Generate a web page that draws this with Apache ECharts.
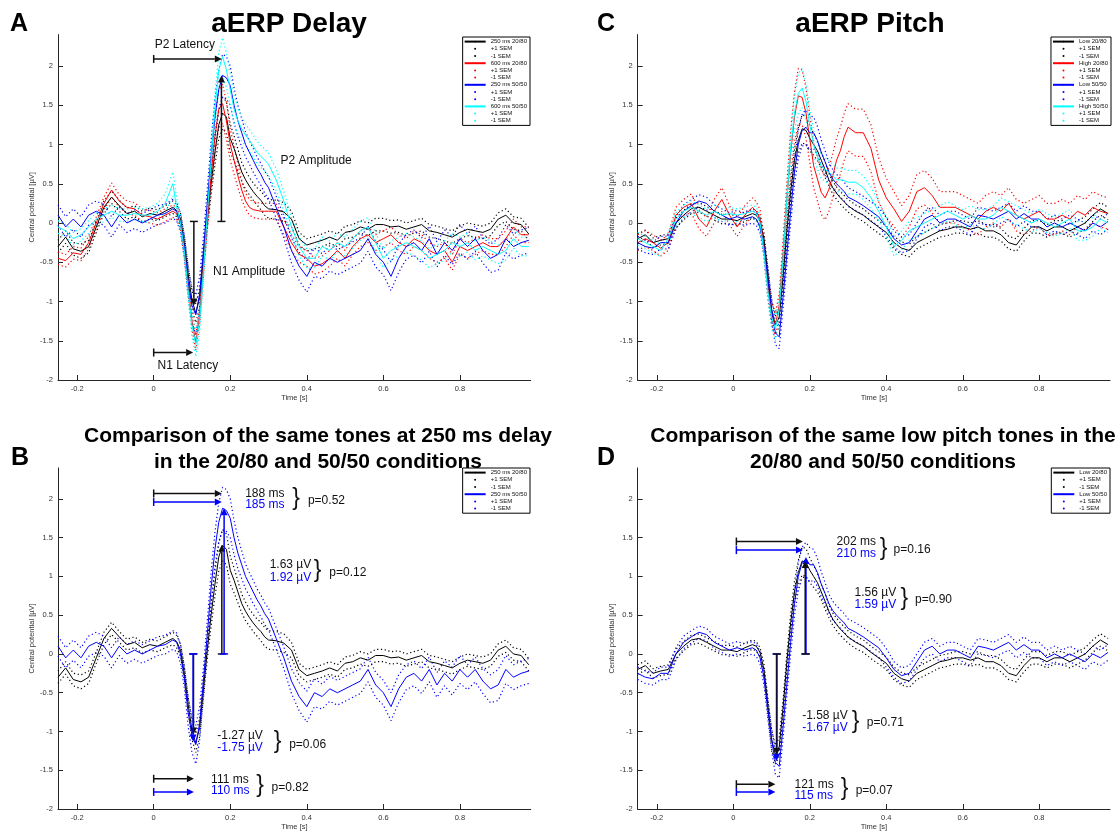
<!DOCTYPE html>
<html><head><meta charset="utf-8">
<script src="https://cdn.jsdelivr.net/npm/echarts@6/dist/echarts.min.js"></script>
<style>html,body{margin:0;padding:0;background:#fff}#c{width:1120px;height:832px}</style>
</head><body><div id="c"></div>
<script>
// ---- time base (s) ----
const T = [-0.25,-0.23,-0.21,-0.19,-0.17,-0.15,-0.13,-0.11,-0.09,-0.07,-0.05,-0.03,-0.01,0.01,0.03,0.05,
0.06,0.07,0.08,0.09,0.10,0.11,0.12,0.13,0.14,0.15,0.16,0.17,0.18,0.19,0.20,0.21,0.22,0.23,0.24,0.25,0.26,0.27,0.28,0.29,0.30,
0.32,0.34,0.36,0.38,0.40,0.42,0.44,0.46,0.48,0.50,0.52,0.54,0.56,0.58,0.60,0.62,0.64,0.66,0.68,0.70,0.72,0.74,0.76,0.78,0.80,0.82,0.84,0.86,0.88,0.90,0.92,0.94,0.96,0.98];
const X_TICKS = [-0.2,0,0.2,0.4,0.6,0.8];
const Y_TICKS = [-2,-1.5,-1,-0.5,0,0.5,1,1.5,2];

// ---- Delay: 250 ms 20/80 (black) ----
const delay250_2080 = [-0.30,-0.18,-0.33,-0.36,-0.30,-0.05,0.20,0.33,0.22,0.12,0.15,0.08,0.12,0.10,0.15,0.20,
0.16,0.05,-0.25,-0.65,-0.98,-1.15,-0.95,-0.45,0.05,0.50,0.90,1.25,1.40,1.35,1.08,0.95,0.80,0.65,0.55,0.47,0.40,0.34,0.29,0.22,0.18,
0.17,0.14,0.05,-0.20,-0.28,-0.25,-0.22,-0.18,-0.22,-0.12,-0.10,-0.05,-0.08,-0.02,-0.02,-0.05,-0.04,-0.08,-0.05,-0.02,-0.10,-0.12,-0.15,-0.18,-0.12,-0.08,-0.10,-0.12,-0.08,0.05,0.10,0.00,-0.02,-0.14];
const sem_delay250_2080 = [0.08,0.08,0.08,0.09,0.08,0.07,0.08,0.08,0.07,0.07,0.07,0.07,0.07,0.07,0.07,0.08,
0.08,0.08,0.09,0.10,0.12,0.12,0.12,0.12,0.12,0.14,0.16,0.18,0.20,0.20,0.18,0.16,0.14,0.12,0.12,0.11,0.11,0.11,0.12,0.12,0.12,
0.12,0.12,0.10,0.08,0.08,0.08,0.08,0.08,0.08,0.08,0.08,0.08,0.08,0.08,0.08,0.08,0.08,0.08,0.08,0.08,0.08,0.08,0.08,0.08,0.08,0.08,0.08,0.08,0.08,0.08,0.08,0.08,0.08,0.08];
// ---- Delay: 600 ms 20/80 (red) ----
const delay600_2080 = [-0.45,-0.48,-0.38,-0.40,-0.25,0.00,0.25,0.42,0.28,0.20,0.18,0.10,0.08,0.05,0.10,0.15,
0.12,0.00,-0.35,-0.80,-1.25,-1.52,-1.20,-0.55,0.05,0.60,1.10,1.45,1.52,1.30,1.00,0.80,0.60,0.42,0.28,0.20,0.17,0.16,0.15,0.15,0.15,
0.15,-0.05,-0.25,-0.40,-0.45,-0.55,-0.52,-0.45,-0.35,-0.45,-0.30,-0.20,-0.15,-0.25,-0.20,-0.15,-0.25,-0.30,-0.20,-0.25,-0.35,-0.40,-0.35,-0.50,-0.30,-0.35,-0.30,-0.25,-0.30,-0.30,-0.20,-0.05,-0.15,-0.15];
const sem_delay600_2080 = [0.08,0.08,0.08,0.08,0.08,0.08,0.08,0.09,0.08,0.08,0.08,0.08,0.08,0.08,0.08,0.08,
0.08,0.08,0.09,0.10,0.10,0.10,0.10,0.12,0.14,0.18,0.22,0.24,0.25,0.24,0.20,0.18,0.15,0.12,0.10,0.10,0.10,0.10,0.10,0.10,0.10,
0.10,0.10,0.10,0.10,0.10,0.10,0.10,0.10,0.10,0.10,0.10,0.10,0.10,0.10,0.10,0.10,0.10,0.10,0.10,0.10,0.10,0.10,0.10,0.10,0.10,0.10,0.10,0.10,0.10,0.10,0.10,0.10,0.10,0.10];
// ---- Delay: 250 ms 50/50 (blue) ----
const delay250_5050 = [0.10,-0.05,0.05,-0.05,0.10,0.15,0.10,-0.05,0.10,0.00,0.05,0.00,0.05,0.10,0.12,0.18,
0.15,0.00,-0.30,-0.75,-1.05,-1.17,-0.90,-0.35,0.25,0.85,1.35,1.70,1.88,1.85,1.75,1.50,1.30,1.15,1.00,0.90,0.80,0.70,0.62,0.52,0.45,
0.20,-0.05,-0.35,-0.55,-0.68,-0.50,-0.55,-0.45,-0.50,-0.45,-0.40,-0.35,-0.20,-0.40,-0.50,-0.68,-0.45,-0.30,-0.25,-0.35,-0.20,-0.40,-0.25,-0.35,-0.20,-0.30,-0.20,-0.35,-0.45,-0.40,-0.20,-0.30,-0.25,-0.22];
const sem_delay250_5050 = [0.13,0.13,0.13,0.13,0.13,0.13,0.13,0.13,0.12,0.12,0.12,0.12,0.12,0.12,0.12,0.12,
0.12,0.12,0.14,0.18,0.22,0.25,0.22,0.18,0.18,0.20,0.22,0.25,0.27,0.27,0.25,0.22,0.20,0.18,0.16,0.15,0.15,0.14,0.14,0.14,0.14,
0.14,0.14,0.16,0.18,0.20,0.18,0.16,0.16,0.16,0.16,0.16,0.16,0.16,0.16,0.16,0.18,0.18,0.16,0.16,0.16,0.16,0.16,0.16,0.18,0.18,0.16,0.16,0.16,0.18,0.20,0.18,0.16,0.16,0.16];
// ---- Delay: 600 ms 50/50 (cyan) ----
const delay600_5050 = [-0.05,-0.10,-0.20,-0.15,-0.05,0.05,0.10,0.15,0.10,0.10,0.12,0.10,0.10,0.15,0.25,0.50,
0.20,0.00,-0.35,-0.85,-1.30,-1.55,-1.25,-0.60,0.10,0.80,1.45,1.95,2.12,1.95,1.70,1.45,1.30,1.20,1.12,1.05,0.98,0.90,0.85,0.80,0.75,
0.55,0.28,-0.05,-0.30,-0.45,-0.45,-0.30,-0.35,-0.25,-0.30,-0.20,-0.10,-0.05,-0.25,-0.45,-0.35,-0.30,-0.25,-0.30,-0.35,-0.45,-0.40,-0.35,-0.25,-0.30,-0.25,-0.35,-0.30,-0.35,-0.40,-0.35,-0.20,-0.30,-0.30];
const sem_delay600_5050 = [0.08,0.08,0.08,0.08,0.08,0.08,0.08,0.08,0.08,0.08,0.08,0.08,0.10,0.10,0.12,0.15,
0.12,0.10,0.10,0.12,0.14,0.15,0.14,0.14,0.15,0.18,0.20,0.22,0.24,0.22,0.20,0.18,0.16,0.15,0.14,0.14,0.14,0.14,0.14,0.14,0.14,
0.14,0.12,0.12,0.12,0.12,0.12,0.12,0.12,0.12,0.12,0.12,0.12,0.12,0.12,0.12,0.12,0.12,0.12,0.12,0.12,0.12,0.12,0.12,0.12,0.12,0.12,0.12,0.12,0.12,0.12,0.12,0.12,0.12,0.12];

// ---- Pitch: Low 20/80 (black) ----
const pitchLow_2080 = [-0.20,-0.15,-0.25,-0.22,-0.20,0.00,0.10,0.18,0.20,0.15,0.10,0.05,0.05,0.03,0.08,0.12,
0.10,0.02,-0.20,-0.65,-1.10,-1.30,-1.20,-0.70,-0.10,0.40,0.80,1.05,1.20,1.18,1.08,1.00,0.92,0.80,0.68,0.55,0.45,0.38,0.32,0.27,0.22,
0.15,0.10,0.02,-0.05,-0.12,-0.25,-0.32,-0.35,-0.25,-0.20,-0.15,-0.10,-0.08,-0.05,-0.05,-0.08,-0.05,-0.10,-0.10,-0.15,-0.25,-0.28,-0.15,-0.05,-0.05,-0.10,-0.05,-0.05,-0.10,-0.05,0.00,0.10,0.18,0.12];
const sem_pitchLow_2080 = [0.06,0.06,0.06,0.06,0.06,0.06,0.06,0.06,0.06,0.06,0.06,0.06,0.06,0.06,0.06,0.06,
0.06,0.06,0.08,0.10,0.12,0.12,0.12,0.10,0.10,0.12,0.14,0.16,0.18,0.18,0.16,0.14,0.12,0.10,0.10,0.08,0.08,0.08,0.08,0.08,0.08,
0.08,0.08,0.08,0.08,0.08,0.08,0.08,0.08,0.08,0.08,0.08,0.08,0.08,0.08,0.08,0.08,0.08,0.08,0.08,0.08,0.08,0.08,0.08,0.08,0.08,0.08,0.08,0.08,0.08,0.08,0.08,0.08,0.08,0.08];
// ---- Pitch: High 20/80 (red) ----
const pitchHigh_2080 = [-0.25,-0.20,-0.25,-0.32,-0.25,0.10,0.20,0.25,0.05,-0.05,0.15,0.30,0.10,-0.05,0.10,0.20,
0.15,0.05,-0.30,-0.80,-1.15,-1.30,-1.05,-0.40,0.30,0.90,1.35,1.62,1.60,1.40,1.07,0.73,0.56,0.39,0.32,0.43,0.60,0.80,0.92,1.10,1.22,
1.15,1.15,0.95,0.55,0.32,0.18,0.02,0.15,0.40,0.45,0.35,0.20,0.20,0.20,0.15,0.10,0.05,0.15,0.20,0.15,0.25,0.10,0.05,0.10,0.15,0.05,0.05,0.10,0.05,0.15,0.10,0.20,0.15,0.12];
const sem_pitchHigh_2080 = [0.10,0.10,0.10,0.10,0.10,0.10,0.10,0.12,0.12,0.12,0.15,0.15,0.12,0.12,0.12,0.12,
0.12,0.12,0.12,0.15,0.15,0.15,0.15,0.18,0.22,0.28,0.32,0.35,0.35,0.32,0.30,0.28,0.28,0.28,0.28,0.28,0.28,0.28,0.30,0.30,0.30,
0.30,0.30,0.30,0.28,0.25,0.22,0.20,0.20,0.22,0.22,0.22,0.20,0.20,0.20,0.20,0.20,0.20,0.20,0.20,0.20,0.20,0.20,0.20,0.20,0.20,0.20,0.20,0.20,0.20,0.20,0.20,0.20,0.20,0.20];
// ---- Pitch: Low 50/50 (blue) ----
const pitchLow_5050 = [-0.25,-0.30,-0.32,-0.25,-0.25,0.00,0.15,0.22,0.28,0.25,0.15,0.10,0.05,0.08,0.05,0.08,
0.05,-0.05,-0.30,-0.70,-1.10,-1.40,-1.45,-0.95,-0.40,0.15,0.65,1.00,1.18,1.22,1.15,1.15,1.05,0.90,0.78,0.65,0.56,0.50,0.45,0.40,0.33,
0.28,0.22,0.15,0.08,-0.05,-0.20,-0.28,-0.25,-0.10,0.05,0.10,0.00,0.05,0.05,0.00,-0.05,0.10,0.08,0.05,0.10,0.15,0.05,0.12,0.05,0.05,-0.05,0.00,-0.05,0.00,-0.05,-0.10,0.00,-0.05,0.02];
const sem_pitchLow_5050 = [0.08,0.08,0.08,0.08,0.08,0.08,0.08,0.08,0.08,0.08,0.08,0.08,0.08,0.08,0.08,0.08,
0.08,0.08,0.10,0.12,0.14,0.15,0.15,0.14,0.14,0.15,0.16,0.18,0.20,0.22,0.22,0.20,0.18,0.16,0.14,0.12,0.12,0.12,0.12,0.12,0.12,
0.12,0.12,0.12,0.12,0.12,0.10,0.10,0.10,0.10,0.10,0.10,0.10,0.10,0.10,0.10,0.10,0.10,0.10,0.10,0.10,0.10,0.10,0.10,0.10,0.10,0.10,0.10,0.10,0.10,0.10,0.10,0.10,0.10,0.10];
// ---- Pitch: High 50/50 (cyan) ----
const pitchHigh_5050 = [-0.20,-0.25,-0.30,-0.35,-0.20,0.05,0.15,0.20,0.15,0.10,0.15,0.10,0.12,0.10,0.12,0.15,
0.12,0.00,-0.35,-0.85,-1.20,-1.35,-1.10,-0.45,0.30,0.95,1.40,1.65,1.72,1.55,1.25,1.00,0.85,0.72,0.68,0.65,0.60,0.55,0.55,0.54,0.52,
0.52,0.45,0.32,0.15,-0.05,-0.30,-0.22,-0.10,-0.05,0.00,0.05,0.10,0.15,0.10,0.05,0.10,0.05,0.05,0.10,0.20,0.15,0.10,0.05,0.00,0.05,0.00,-0.05,0.00,0.05,-0.10,-0.10,-0.05,0.05,0.00];
const sem_pitchHigh_5050 = [0.08,0.08,0.08,0.08,0.08,0.08,0.08,0.08,0.08,0.08,0.08,0.08,0.08,0.08,0.08,0.08,
0.08,0.08,0.10,0.12,0.14,0.15,0.14,0.12,0.14,0.18,0.22,0.25,0.25,0.22,0.20,0.18,0.16,0.15,0.15,0.15,0.15,0.15,0.15,0.15,0.15,
0.15,0.15,0.14,0.12,0.12,0.12,0.12,0.12,0.12,0.12,0.12,0.12,0.12,0.12,0.12,0.12,0.12,0.12,0.12,0.12,0.12,0.12,0.12,0.12,0.12,0.12,0.12,0.12,0.12,0.12,0.12,0.12,0.12,0.12];

// ---- annotations: [x0, y0, x1, y1, colour(0 black,1 blue)] ----
const arrowsA = [[0,2.09,0.178,2.09,0],[0.177,0.02,0.177,1.88,0],[0.105,0.02,0.105,-1.05,0],[0,-1.65,0.103,-1.65,0]];
const arrowsB = [[0,2.07,0.178,2.07,0],[0,1.96,0.178,1.96,1],[0.178,0,0.178,1.41,0],[0.184,0,0.184,1.88,1],
  [0.104,0,0.104,-1.04,0],[0.103,0,0.103,-1.13,1],[0,-1.61,0.105,-1.61,0],[0,-1.78,0.105,-1.78,1]];
const arrowsD = [[0.008,1.45,0.182,1.45,0],[0.008,1.34,0.182,1.34,1],[0.190,0,0.190,1.25,1],[0.188,0,0.188,1.20,0],
  [0.113,0,0.113,-1.38,1],[0.114,0,0.114,-1.30,0],[0.008,-1.68,0.11,-1.68,0],[0.008,-1.78,0.11,-1.78,1]];
// notes: [x, y, text, colour, kind(0 text, 1 brace)]
const notesA = [[0.003,2.27,'P2 Latency',0,0],[0.331,0.79,'P2 Amplitude',0,0],[0.155,-0.62,'N1 Amplitude',0,0],[0.010,-1.82,'N1 Latency',0,0]];
const notesB = [[0.239,2.07,'188 ms',0,0],[0.239,1.93,'185 ms',1,0],[0.372,2.0,'}',0,1],[0.403,1.98,'p=0.52',0,0],
  [0.303,1.15,'1.63 µV',0,0],[0.303,0.99,'1.92 µV',1,0],[0.428,1.07,'}',0,1],[0.459,1.05,'p=0.12',0,0],
  [0.166,-1.05,'-1.27 µV',0,0],[0.166,-1.21,'-1.75 µV',1,0],[0.324,-1.13,'}',0,1],[0.354,-1.17,'p=0.06',0,0],
  [0.150,-1.62,'111 ms',0,0],[0.150,-1.77,'110 ms',1,0],[0.278,-1.70,'}',0,1],[0.308,-1.72,'p=0.82',0,0]];
const notesD = [[0.270,1.445,'202 ms',0,0],[0.270,1.29,'210 ms',1,0],[0.393,1.36,'}',0,1],[0.419,1.35,'p=0.16',0,0],
  [0.317,0.79,'1.56 µV',0,0],[0.317,0.635,'1.59 µV',1,0],[0.447,0.71,'}',0,1],[0.475,0.70,'p=0.90',0,0],
  [0.180,-0.79,'-1.58 µV',0,0],[0.180,-0.95,'-1.67 µV',1,0],[0.320,-0.87,'}',0,1],[0.349,-0.89,'p=0.71',0,0],
  [0.160,-1.68,'121 ms',0,0],[0.160,-1.83,'115 ms',1,0],[0.291,-1.74,'}',0,1],[0.320,-1.77,'p=0.07',0,0]];

const PAL = ['#111111', '#0000ff'];
const FONT = '"Liberation Sans", Arial, Helvetica, sans-serif';
const K = '#000000', R = '#ff0000', B = '#0000ff', C = '#00ffff';

const series = [];
const legends = [];
function group(gi, legendData, label, mean, sem, color) {
  const base = {type: 'line', xAxisIndex: gi, yAxisIndex: gi, symbol: 'none', silent: true, animation: false, clip: true};
  const nm = gi + '|' + label + '|m', np = gi + '|+1 SEM|' + color, nn = gi + '|-1 SEM|' + color;
  series.push(Object.assign({}, base, {name: nm, data: T.map((t, i) => [t, mean[i]]),
    lineStyle: {color: color, width: 1}, itemStyle: {color: color}, z: 3}));
  series.push(Object.assign({}, base, {name: np, data: T.map((t, i) => [t, +(mean[i] + sem[i]).toFixed(3)]),
    lineStyle: {color: color, width: 1.2, type: [1.2, 2.6]}, itemStyle: {color: color}, z: 2}));
  series.push(Object.assign({}, base, {name: nn, data: T.map((t, i) => [t, +(mean[i] - sem[i]).toFixed(3)]),
    lineStyle: {color: color, width: 1.2, type: [1.2, 2.6]}, itemStyle: {color: color}, z: 2}));
  legendData.push({name: nm}, {name: np, icon: 'circle'}, {name: nn, icon: 'circle'});
}
function legend(data, pos) {
  return Object.assign({orient: 'vertical', itemWidth: 21, itemHeight: 2, itemGap: 0, padding: [1, 3, 1, 1],
    borderColor: '#000', borderWidth: 1, backgroundColor: '#fff', selectedMode: false, z: 10,
    textStyle: {fontSize: 6, lineHeight: 7.2, color: '#111', fontFamily: FONT},
    formatter: n => n.split('|')[1], data: data}, pos);
}
const lgA = [], lgC = [], lgB = [], lgD = [];
group(0, lgA, '250 ms 20/80', delay250_2080, sem_delay250_2080, K);
group(0, lgA, '600 ms 20/80', delay600_2080, sem_delay600_2080, R);
group(0, lgA, '250 ms 50/50', delay250_5050, sem_delay250_5050, B);
group(0, lgA, '600 ms 50/50', delay600_5050, sem_delay600_5050, C);
group(1, lgC, 'Low 20/80', pitchLow_2080, sem_pitchLow_2080, K);
group(1, lgC, 'High 20/80', pitchHigh_2080, sem_pitchHigh_2080, R);
group(1, lgC, 'Low 50/50', pitchLow_5050, sem_pitchLow_5050, B);
group(1, lgC, 'High 50/50', pitchHigh_5050, sem_pitchHigh_5050, C);
group(2, lgB, '250 ms 20/80', delay250_2080, sem_delay250_2080, K);
group(2, lgB, '250 ms 50/50', delay250_5050, sem_delay250_5050, B);
group(3, lgD, 'Low 20/80', pitchLow_2080, sem_pitchLow_2080, K);
group(3, lgD, 'Low 50/50', pitchLow_5050, sem_pitchLow_5050, B);
legends.push(legend(lgA, {right: 590, top: 37}));
legends.push(legend(lgC, {right: 9, top: 37}));
legends.push(legend(lgB, {right: 590, top: 468}));
legends.push(legend(lgD, {right: 10, top: 468}));

function arrowSeries(gi, arr) {
  return {type: 'custom', xAxisIndex: gi, yAxisIndex: gi, silent: true, animation: false, clip: false, z: 5,
    data: arr.map(a => a.slice(0, 5)),
    renderItem: function (params, api) {
      const p0 = api.coord([api.value(0), api.value(1)]);
      const p1 = api.coord([api.value(2), api.value(3)]);
      const col = PAL[api.value(4)];
      const dx = p1[0] - p0[0], dy = p1[1] - p0[1], L = Math.hypot(dx, dy) || 1;
      const ux = dx / L, uy = dy / L, nx = -uy, ny = ux, hl = 7, hw = 3.5, cap = 4;
      const bx = p1[0] - ux * hl, by = p1[1] - uy * hl;
      return {type: 'group', children: [
        {type: 'line', shape: {x1: p0[0], y1: p0[1], x2: bx, y2: by}, style: {stroke: col, lineWidth: 1.5}},
        {type: 'line', shape: {x1: p0[0] + nx * cap, y1: p0[1] + ny * cap, x2: p0[0] - nx * cap, y2: p0[1] - ny * cap}, style: {stroke: col, lineWidth: 1.5}},
        {type: 'polygon', shape: {points: [[p1[0], p1[1]], [bx + nx * hw, by + ny * hw], [bx - nx * hw, by - ny * hw]]}, style: {fill: col}}
      ]};
    }};
}
function noteSeries(gi, arr) {
  return {type: 'custom', xAxisIndex: gi, yAxisIndex: gi, silent: true, animation: false, clip: false, z: 6,
    data: arr.map(a => [a[0], a[1]]),
    renderItem: function (params, api) {
      const n = arr[params.dataIndex];
      const p = api.coord([api.value(0), api.value(1)]);
      const brace = n[4] === 1;
      return {type: 'text', x: p[0], y: p[1], style: {text: n[2], fill: PAL[n[3]],
        font: brace ? '23px ' + FONT : '12px ' + FONT, align: brace ? 'center' : 'left', verticalAlign: 'middle'}};
    }};
}
series.push(arrowSeries(0, arrowsA), noteSeries(0, notesA));
series.push(arrowSeries(2, arrowsB), noteSeries(2, notesB));
series.push(arrowSeries(3, arrowsD), noteSeries(3, notesD));

const grids = [
  {left: 58, top: 34.6, width: 472.7, height: 345.4},
  {left: 637.7, top: 34.6, width: 472.3, height: 345.4},
  {left: 58, top: 467.9, width: 472.7, height: 344.1},
  {left: 637.7, top: 467.9, width: 472.3, height: 344.1}
];
const axCol = '#262626';
const xAxes = grids.map((g, i) => ({gridIndex: i, type: 'value', min: -0.25, max: 0.985,
  axisLine: {onZero: false, lineStyle: {color: axCol, width: 1}},
  axisTick: {inside: true, length: 5, customValues: X_TICKS, lineStyle: {color: axCol}},
  axisLabel: {customValues: X_TICKS, fontSize: 7.5, color: '#333', margin: 5, fontFamily: FONT},
  splitLine: {show: false},
  name: 'Time [s]', nameLocation: 'middle', nameGap: 14, nameTextStyle: {fontSize: 7.5, color: '#333', fontFamily: FONT}}));
const yAxes = grids.map((g, i) => ({gridIndex: i, type: 'value', min: -2, max: 2.4,
  axisLine: {show: true, onZero: false, lineStyle: {color: axCol, width: 1}},
  axisTick: {show: true, inside: true, length: 5, customValues: Y_TICKS, lineStyle: {color: axCol}},
  axisLabel: {customValues: Y_TICKS, fontSize: 7.5, color: '#333', margin: 5, fontFamily: FONT},
  splitLine: {show: false},
  name: 'Central potential [µV]', nameLocation: 'middle', nameGap: 22, nameTextStyle: {fontSize: 7.5, color: '#333', fontFamily: FONT}}));

const txt = (x, y, text, font, align) => ({type: 'text', x: x, y: y, z: 0,
  style: {text: text, font: font, fill: '#000', align: align, verticalAlign: 'middle', lineHeight: 26}});
const graphic = [
  txt(10, 24, 'A', 'bold 25px ' + FONT, 'left'),
  txt(597, 24, 'C', 'bold 25px ' + FONT, 'left'),
  txt(11, 458, 'B', 'bold 25px ' + FONT, 'left'),
  txt(597, 458, 'D', 'bold 25px ' + FONT, 'left'),
  txt(289, 24, 'aERP Delay', 'bold 28px ' + FONT, 'center'),
  txt(870, 24, 'aERP Pitch', 'bold 28px ' + FONT, 'center'),
  txt(318, 449, 'Comparison of the same tones at 250 ms delay\nin the 20/80 and 50/50 conditions', 'bold 21px ' + FONT, 'center'),
  txt(883, 449, 'Comparison of the same low pitch tones in the\n20/80 and 50/50 conditions', 'bold 21px ' + FONT, 'center')
];

const chart = echarts.init(document.getElementById('c'), null, {renderer: 'canvas'});
chart.setOption({
  backgroundColor: '#fff', animation: false,
  grid: grids, xAxis: xAxes, yAxis: yAxes,
  legend: legends, graphic: graphic, series: series
});
</script></body></html>
